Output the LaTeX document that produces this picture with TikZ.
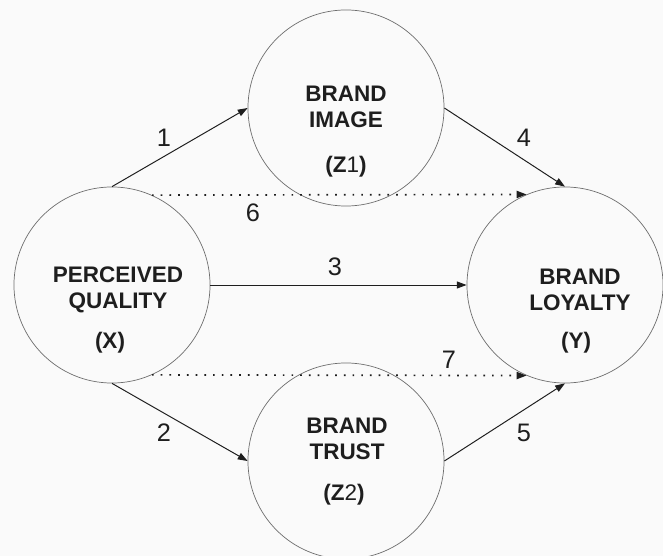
\documentclass[tikz,border=0pt]{standalone}
\usepackage{fontspec}
\setmainfont{Liberation Sans}
\usetikzlibrary{arrows.meta}
\definecolor{diagink}{HTML}{1E1E1E}
\definecolor{ringgray}{HTML}{6E6E6E}
\definecolor{paper}{HTML}{FAFAFA}

\begin{document}
\begin{tikzpicture}[
  x=0.025cm,
  y=-0.025cm,
  every node/.style={diagink},
  construct/.style={circle, draw=ringgray, line width=0.5pt,
    minimum size=4.9cm, inner sep=0pt},
  title/.style={font=\fontsize{16}{18}\selectfont\bfseries, align=center,
    inner sep=0pt},
  varname/.style={font=\fontsize{16}{18}\selectfont, inner sep=0pt},
  path/.style={diagink, line width=0.7pt, -{Triangle[length=7pt, width=5pt]}},
  indirect/.style={path, line width=1.2pt, dash pattern=on 1.2pt off 5pt},
  weight/.style={font=\fontsize{18}{20}\selectfont, inner sep=0pt}
]
  % frame: the page is the 663 x 556 sheet
  \fill[paper] (0,0) rectangle (663,556);
  \useasboundingbox (0,0) rectangle (663,556);

  % ================= the four constructs ================================
  \node[construct] (quality) at (112,285) {};
  \node[construct] (image)   at (346,108) {};
  \node[construct] (trust)   at (346,461) {};
  \node[construct] (loyalty) at (565,285) {};

  \node[title] (qualitytxt) at (118,290) {PERCEIVED\\QUALITY};
  \node[varname] (qualityvar) at (110,343) {\bfseries(X)};

  \node[title] (imagetxt) at (346,107) {BRAND\\IMAGE};
  \node[varname] (imagevar) at (346,167) {{\bfseries(Z}1{\bfseries)}};

  \node[title] (trusttxt) at (347,439) {BRAND\\TRUST};
  \node[varname] (trustvar) at (344,495) {{\bfseries(Z}2{\bfseries)}};

  \node[title] (loyaltytxt) at (580,290) {BRAND\\LOYALTY};
  \node[varname] (loyaltyvar) at (576,343) {\bfseries(Y)};

  % ================= direct paths =======================================
  \draw[path] (quality.north) -- (image.west);
  \draw[path] (quality.south) -- (trust.west);
  \draw[path] (quality.east) -- (loyalty.west);
  \draw[path] (image.east) -- (loyalty.north);
  \draw[path] (trust.east) -- (loyalty.south);

  % ================= mediated paths (dotted) ============================
  \draw[indirect] (quality.66.8) -- (loyalty.113.2);
  \draw[indirect] (quality.-66.8) -- (loyalty.-113.2);

  % ================= path numbers =======================================
  \node[weight] (w1) at (164,138) {1};
  \node[weight] (w2) at (164,433) {2};
  \node[weight] (w3) at (335,267) {3};
  \node[weight] (w4) at (524,138) {4};
  \node[weight] (w5) at (524,433) {5};
  \node[weight] (w6) at (253,213) {6};
  \node[weight] (w7) at (449,360) {7};
\end{tikzpicture}
\end{document}
